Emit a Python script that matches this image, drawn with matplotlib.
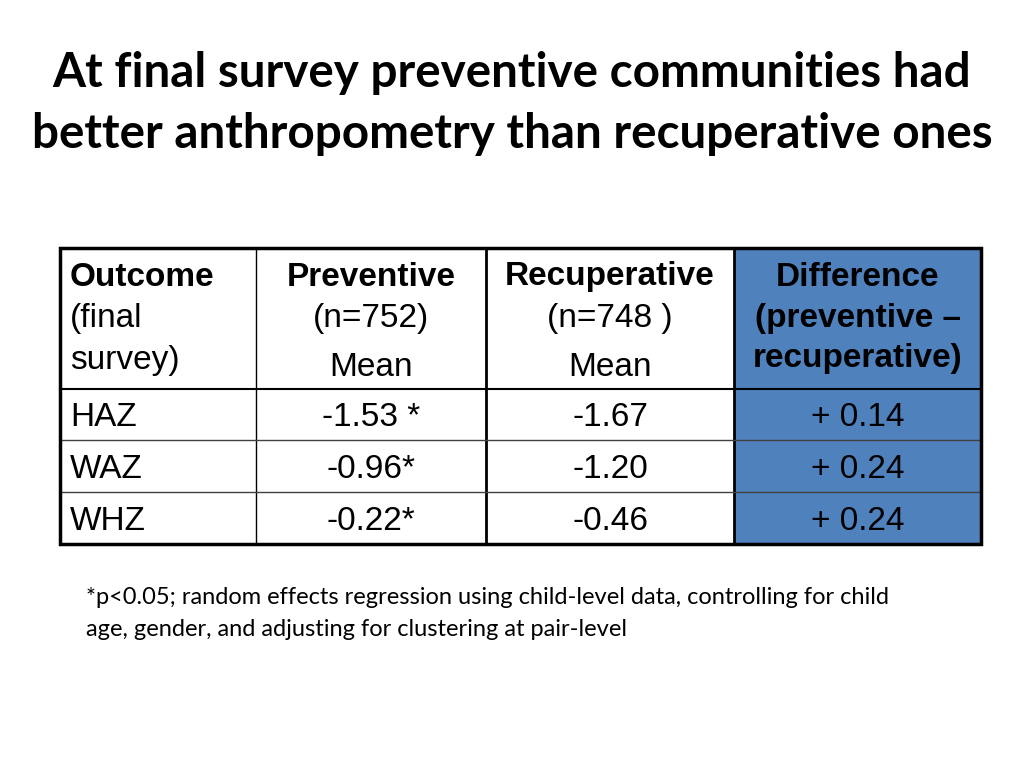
import matplotlib
matplotlib.use("Agg")
import matplotlib.pyplot as plt
from matplotlib.patches import Rectangle

title_lines = ["At final survey preventive communities had",
               "better anthropometry than recuperative ones"]
outcomes = ["HAZ", "WAZ", "WHZ"]
preventive = ["-1.53 *", "-0.96*", "-0.22*"]
recuperative = ["-1.67", "-1.20", "-0.46"]
difference = ["+ 0.14", "+ 0.24", "+ 0.24"]
footnote = ["*p<0.05; random effects regression using child-level data, controlling for child",
            "age, gender, and adjusting for clustering at pair-level"]

BLUE = "#4F81BD"
fig = plt.figure(figsize=(10.24, 7.68), dpi=100)
ax = fig.add_axes([0, 0, 1, 1])
ax.set_xlim(0, 1024)
ax.set_ylim(768, 0)
ax.axis("off")

TITLE_FONT = ["Lato", "DejaVu Sans"]
TAB_FONT = ["Liberation Sans", "DejaVu Sans"]

# title
for i, t in enumerate(title_lines):
    ax.text(512, 73 + i * 61, t, ha="center", va="center", fontsize=34.3,
            fontweight="bold", family=TITLE_FONT, color="black")

# table geometry
cols = [60, 256, 486, 734, 981]
rows = [248, 389, 440, 492, 544]

ax.add_patch(Rectangle((cols[3], rows[0]), cols[4] - cols[3], rows[-1] - rows[0],
                       facecolor=BLUE, edgecolor="none", zorder=1))

# inner lines
ax.plot([cols[1], cols[1]], [rows[0], rows[-1]], color="black", lw=1.0, zorder=3)
ax.plot([cols[2], cols[2]], [rows[0], rows[-1]], color="black", lw=2.0, zorder=3)
ax.plot([cols[3], cols[3]], [rows[0], rows[-1]], color="black", lw=2.0, zorder=3)
ax.plot([cols[0], cols[4]], [rows[1], rows[1]], color="black", lw=1.5, zorder=3)
for r in rows[2:-1]:
    ax.plot([cols[0], cols[4]], [r, r], color="#404040", lw=1.0, zorder=3)
# outer border
ax.add_patch(Rectangle((cols[0], rows[0]), cols[4] - cols[0], rows[-1] - rows[0],
                       facecolor="none", edgecolor="black", lw=2.5, zorder=4))

FS = 24
# header
ax.text(70, 277, "Outcome", ha="left", va="center", fontsize=FS, fontweight="bold", family=TAB_FONT)
ax.text(70, 319, "(final", ha="left", va="center", fontsize=FS, family=TAB_FONT)
ax.text(70, 360, "survey)", ha="left", va="center", fontsize=FS, family=TAB_FONT)

for cx, name, n in [(371, "Preventive", "(n=752)"), (610, "Recuperative", "(n=748 )")]:
    ax.text(cx, 277, name, ha="center", va="center", fontsize=FS, fontweight="bold", family=TAB_FONT)
    ax.text(cx, 319, n, ha="center", va="center", fontsize=FS, family=TAB_FONT)
    ax.text(cx, 368, "Mean", ha="center", va="center", fontsize=FS, family=TAB_FONT)

for y, t in zip([277, 319, 359], ["Difference", "(preventive \u2013", "recuperative)"]):
    ax.text(858, y, t, ha="center", va="center", fontsize=FS, fontweight="bold", family=TAB_FONT)

# data rows
for i in range(len(outcomes)):
    y = (rows[i + 1] + rows[i + 2]) / 2 + 3
    ax.text(70, y, outcomes[i], ha="left", va="center", fontsize=FS, family=TAB_FONT)
    ax.text(371, y, preventive[i], ha="center", va="center", fontsize=FS, family=TAB_FONT)
    ax.text(610, y, recuperative[i], ha="center", va="center", fontsize=FS, family=TAB_FONT)
    ax.text(858, y, difference[i], ha="center", va="center", fontsize=FS, family=TAB_FONT)

# footnote
for i, t in enumerate(footnote):
    ax.text(86, 598 + i * 31, t, ha="left", va="center", fontsize=17,
            family=TITLE_FONT, color="black")

fig.savefig("out.png", dpi=100, facecolor="white")
